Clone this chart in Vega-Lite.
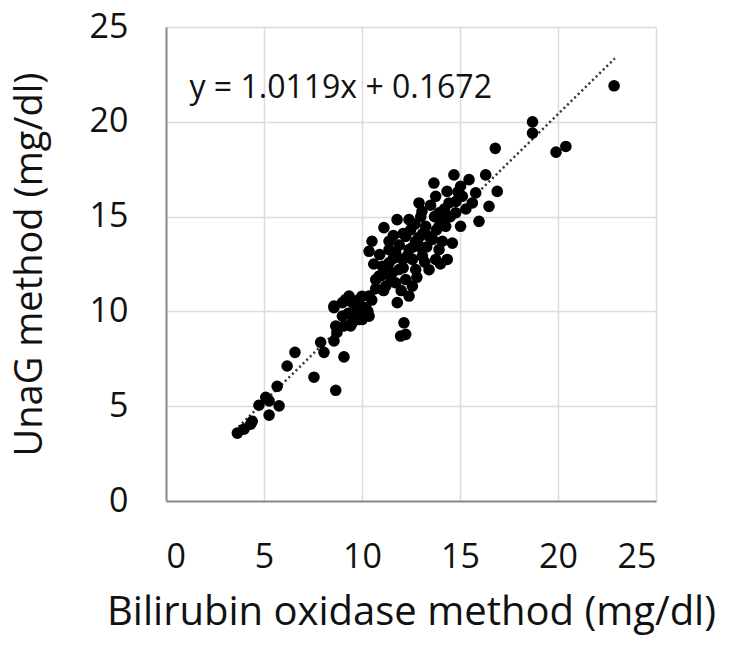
{
  "$schema": "https://vega.github.io/schema/vega-lite/v6.json",
  "width": 490,
  "height": 474,
  "autosize": {"type": "none"},
  "padding": {"left": 166, "top": 27, "right": 75, "bottom": 144},
  "background": "white",
  "config": {
    "view": {"stroke": null},
    "font": "Open Sans",
    "axis": {
      "labelFont": "Open Sans",
      "titleFont": "Open Sans",
      "labelFontSize": 34,
      "labelColor": "#111111",
      "titleColor": "#111111",
      "titleFontWeight": "normal",
      "ticks": false,
      "gridColor": "#dcdcdc",
      "gridWidth": 1.5,
      "domainColor": "#8a8a8a",
      "domainWidth": 2
    }
  },
  "datasets": {
    "pts": [
      {"x": 3.64, "y": 3.58}, {"x": 3.98, "y": 3.79}, {"x": 4.32, "y": 4.05}, {"x": 4.4, "y": 4.2},
      {"x": 4.74, "y": 5.05}, {"x": 5.09, "y": 5.47}, {"x": 5.26, "y": 5.28}, {"x": 5.26, "y": 4.53},
      {"x": 5.77, "y": 5.02}, {"x": 5.67, "y": 6.05}, {"x": 6.18, "y": 7.12}, {"x": 6.58, "y": 7.84},
      {"x": 7.55, "y": 6.53}, {"x": 7.89, "y": 8.37}, {"x": 8.06, "y": 7.84}, {"x": 8.66, "y": 5.84},
      {"x": 9.08, "y": 7.6}, {"x": 8.57, "y": 8.44}, {"x": 8.72, "y": 8.89}, {"x": 8.57, "y": 10.2},
      {"x": 9.17, "y": 10.63}, {"x": 9.08, "y": 9.23}, {"x": 9.42, "y": 9.23}, {"x": 9.5, "y": 9.75},
      {"x": 9.5, "y": 10.47}, {"x": 9.85, "y": 10.1}, {"x": 10.19, "y": 10.2}, {"x": 10.0, "y": 10.8},
      {"x": 9.85, "y": 9.58},
      {"x": 13.67, "y": 16.77}, {"x": 14.69, "y": 17.2}, {"x": 15.46, "y": 16.95}, {"x": 16.31, "y": 17.2},
      {"x": 16.9, "y": 16.33}, {"x": 16.48, "y": 15.54}, {"x": 15.97, "y": 14.75}, {"x": 15.03, "y": 14.49},
      {"x": 14.34, "y": 16.33}, {"x": 13.06, "y": 15.28}, {"x": 11.79, "y": 14.84}, {"x": 11.12, "y": 14.42},
      {"x": 10.51, "y": 13.7}, {"x": 10.36, "y": 13.17}, {"x": 11.38, "y": 13.7}, {"x": 12.48, "y": 14.3},
      {"x": 12.74, "y": 13.7}, {"x": 13.42, "y": 13.96}, {"x": 13.93, "y": 15.2}, {"x": 14.44, "y": 15.72},
      {"x": 15.12, "y": 16.07}, {"x": 15.63, "y": 15.72}, {"x": 14.27, "y": 14.49}, {"x": 14.61, "y": 13.6},
      {"x": 14.35, "y": 12.74}, {"x": 13.93, "y": 13.26}, {"x": 13.42, "y": 12.2}, {"x": 13.08, "y": 12.91},
      {"x": 12.4, "y": 13.26}, {"x": 12.06, "y": 12.74}, {"x": 11.72, "y": 13.09}, {"x": 11.38, "y": 12.56},
      {"x": 10.87, "y": 11.86}, {"x": 10.7, "y": 11.68}, {"x": 11.55, "y": 12.04}, {"x": 11.89, "y": 12.21},
      {"x": 12.23, "y": 11.68}, {"x": 12.57, "y": 11.33}, {"x": 12.4, "y": 10.81}, {"x": 11.8, "y": 10.46},
      {"x": 12.14, "y": 9.4}, {"x": 12.23, "y": 8.79}, {"x": 11.97, "y": 8.7}, {"x": 10.36, "y": 10.81},
      {"x": 9.85, "y": 10.63}, {"x": 9.34, "y": 10.81}, {"x": 9.0, "y": 10.46}, {"x": 8.57, "y": 10.28},
      {"x": 10.1, "y": 10.19}, {"x": 9.5, "y": 9.93}, {"x": 9.0, "y": 9.75}, {"x": 8.66, "y": 9.23},
      {"x": 10.36, "y": 9.75}, {"x": 10.02, "y": 9.58}, {"x": 9.5, "y": 9.4}, {"x": 12.91, "y": 15.72},
      {"x": 14.78, "y": 15.2}, {"x": 15.03, "y": 16.6}, {"x": 15.8, "y": 16.25}, {"x": 13.76, "y": 16.07},
      {"x": 13.93, "y": 14.49}, {"x": 13.25, "y": 14.49}, {"x": 12.91, "y": 13.44}, {"x": 13.76, "y": 12.74},
      {"x": 12.57, "y": 12.74}, {"x": 12.74, "y": 12.21}, {"x": 11.72, "y": 11.51}, {"x": 11.21, "y": 11.33},
      {"x": 11.04, "y": 12.38}, {"x": 12.23, "y": 13.96}, {"x": 12.4, "y": 14.84}, {"x": 11.38, "y": 13.26},
      {"x": 22.86, "y": 21.9}, {"x": 18.7, "y": 20.0}, {"x": 18.7, "y": 19.4}, {"x": 19.9, "y": 18.4},
      {"x": 20.4, "y": 18.7}, {"x": 16.8, "y": 18.6},
      {"x": 11.0, "y": 11.9}, {"x": 11.3, "y": 12.0}, {"x": 11.6, "y": 12.8}, {"x": 11.9, "y": 13.5},
      {"x": 12.1, "y": 12.3}, {"x": 12.3, "y": 12.9}, {"x": 12.6, "y": 13.4}, {"x": 12.9, "y": 13.9},
      {"x": 13.1, "y": 14.1}, {"x": 13.3, "y": 13.4}, {"x": 13.6, "y": 13.8}, {"x": 13.8, "y": 14.3},
      {"x": 14.0, "y": 14.9}, {"x": 14.2, "y": 15.4}, {"x": 14.5, "y": 15.0}, {"x": 14.8, "y": 15.8},
      {"x": 13.5, "y": 15.6}, {"x": 12.7, "y": 14.6}, {"x": 12.1, "y": 14.1}, {"x": 11.6, "y": 14.0},
      {"x": 10.9, "y": 13.0}, {"x": 10.6, "y": 12.5}, {"x": 11.1, "y": 11.1}, {"x": 10.5, "y": 10.6},
      {"x": 10.7, "y": 11.2}, {"x": 12.8, "y": 11.8}, {"x": 13.2, "y": 12.6}, {"x": 14.0, "y": 12.5},
      {"x": 15.3, "y": 15.4}, {"x": 14.1, "y": 13.7}, {"x": 12.0, "y": 11.1}, {"x": 11.5, "y": 11.6},
      {"x": 9.7, "y": 10.3}, {"x": 10.3, "y": 10.0}, {"x": 9.3, "y": 9.9}, {"x": 13.0, "y": 15.0},
      {"x": 13.7, "y": 15.0}, {"x": 14.9, "y": 16.3}
    ],
    "trend": [{"x": 3.7, "y": 3.91}, {"x": 22.9, "y": 23.34}],
    "eq": [{"x": 1.2, "y": 21.8, "label": "y = 1.0119x + 0.1672"}]
  },
  "layer": [
    {
      "data": {"name": "trend"},
      "mark": {"type": "line", "color": "#333333", "strokeWidth": 2.5, "strokeDash": [2, 3]},
      "encoding": {
        "x": {"field": "x", "type": "quantitative", "scale": {"domain": [0, 25], "nice": false},
          "axis": {"values": [0, 5, 10, 15, 20, 25], "title": "Bilirubin oxidase method (mg/dl)", "titleFontSize": 40, "labelPadding": 39, "titlePadding": 18}},
        "y": {"field": "y", "type": "quantitative", "scale": {"domain": [0, 25], "nice": false},
          "axis": {"values": [0, 5, 10, 15, 20, 25], "title": "UnaG method (mg/dl)", "titleFontSize": 38, "labelPadding": 38, "titlePadding": 40}}
      }
    },
    {
      "data": {"name": "pts"},
      "mark": {"type": "circle", "size": 135, "color": "black", "opacity": 1},
      "encoding": {
        "x": {"field": "x", "type": "quantitative"},
        "y": {"field": "y", "type": "quantitative"}
      }
    },
    {
      "data": {"name": "eq"},
      "mark": {"type": "text", "align": "left", "baseline": "middle", "fontSize": 32, "font": "Open Sans", "color": "#111111"},
      "encoding": {
        "x": {"field": "x", "type": "quantitative"},
        "y": {"field": "y", "type": "quantitative"},
        "text": {"field": "label"}
      }
    }
  ]
}
